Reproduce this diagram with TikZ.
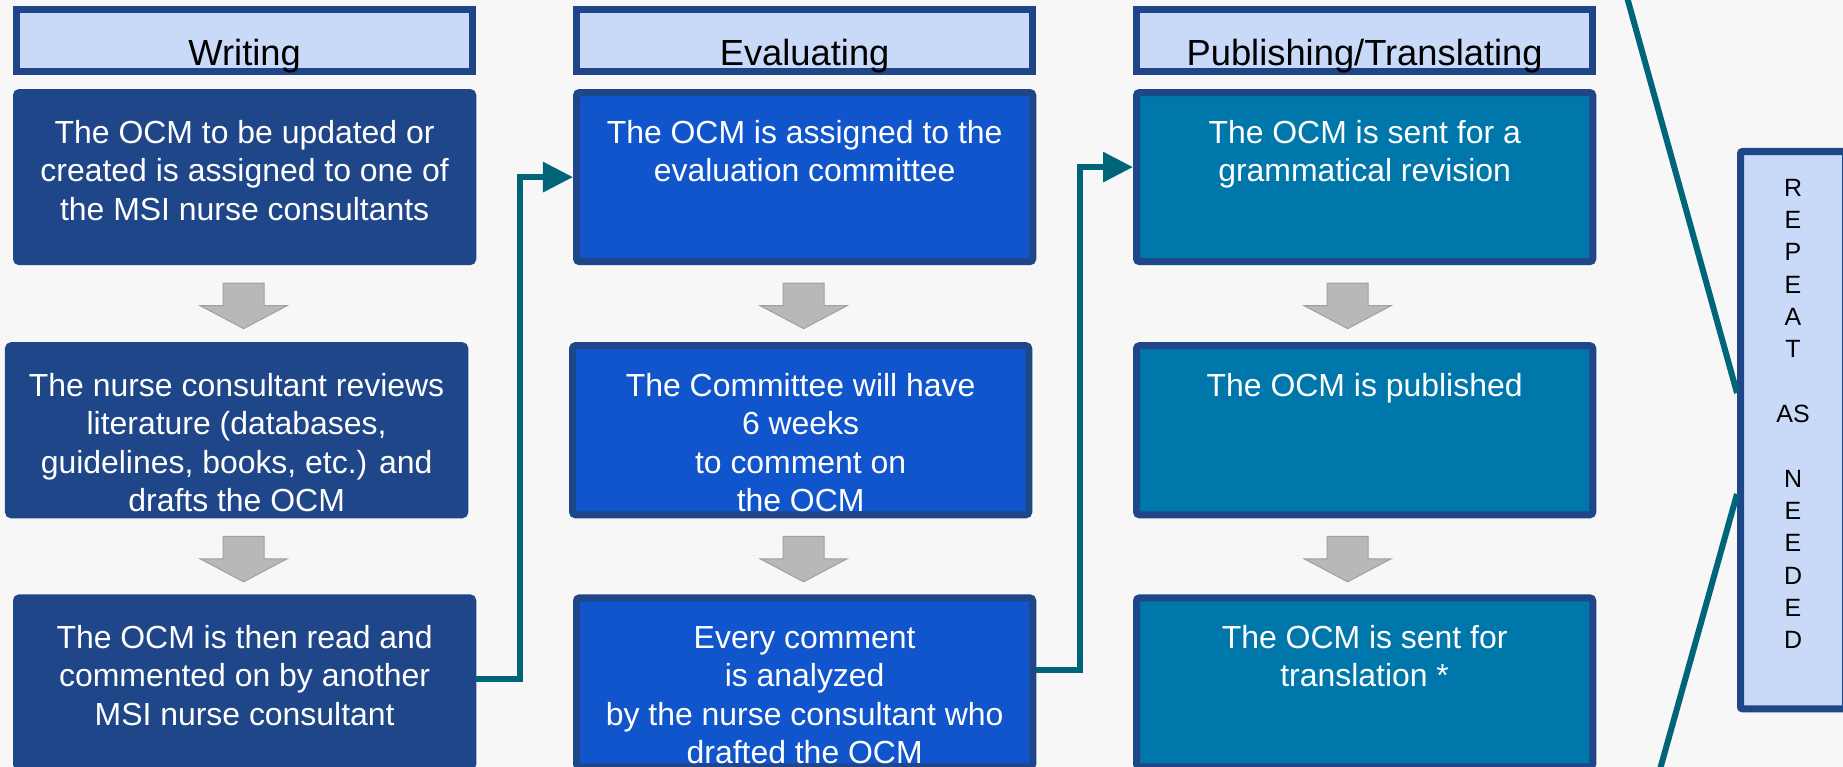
\documentclass[tikz,border=0pt]{standalone}
\usepackage{fontspec}
\setmainfont{Liberation Sans}
\usetikzlibrary{
  positioning,
  calc,
  arrows.meta
}
\definecolor{navy}{RGB}{31,70,136}
\definecolor{headbg}{RGB}{201,218,248}
\definecolor{writebg}{RGB}{31,70,136}
\definecolor{evalbg}{RGB}{17,85,204}
\definecolor{pubbg}{RGB}{0,119,170}
\definecolor{linkteal}{RGB}{0,101,120}
\definecolor{arrowfill}{RGB}{184,184,184}
\definecolor{arrowedge}{RGB}{160,160,160}
\definecolor{pagebg}{RGB}{247,247,247}

\newcommand{\stagetext}[1]{\parbox[c][1.69cm][t]{4.4cm}{\centering\rule{0pt}{0.505cm}#1}}
\newcommand{\repeattext}[1]{\parbox[c][5.57cm][t]{1cm}{\centering\rule{0pt}{0.445cm}#1}}

\begin{document}
\begin{tikzpicture}[
      x=0.01cm, y=-0.01cm,
      phasehead/.style={
        rectangle,
        draw=navy,
        fill=headbg,
        line width=0.07cm,
        minimum width=4.56cm,
        minimum height=0.62cm,
        inner sep=0pt,
        text height=0.49cm,
        text depth=0pt,
        font=\fontsize{10.33}{12}\selectfont
      },
      stagebox/.style={
        rectangle,
        rounded corners=0.03cm,
        draw=navy,
        line width=0.07cm,
        minimum width=4.56cm,
        minimum height=1.69cm,
        inner sep=0pt,
        text=white,
        font=\fontsize{9.08}{10.95}\selectfont
      },
      repeatbox/.style={
        rectangle,
        rounded corners=0.02cm,
        draw=navy,
        fill=headbg,
        line width=0.07cm,
        minimum width=1.05cm,
        minimum height=5.57cm,
        inner sep=0pt,
        font=\fontsize{7.1}{9.2}\selectfont
      },
      linkflow/.style={
        -{Triangle[length=0.3cm,width=0.29cm]},
        line width=0.06cm,
        linkteal
      },
      calloutline/.style={
        line width=0.06cm,
        linkteal
      },
      grayarrow/.pic={
        \filldraw[fill=arrowfill, draw=arrowedge, line width=0.01cm]
          (-20.5,-22.5) -- (20.5,-22.5) -- (20.5,0) -- (43.5,0)
          -- (0,23) -- (-43.5,0) -- (-20.5,0) -- cycle;
      }
    ]

    \useasboundingbox (0,0) rectangle (1843,767);
    \clip (0,0) rectangle (1843,767);
    \fill[pagebg] (0,0) rectangle (1843,767);

    % Coordinates
    \coordinate (col1) at (13,6);
    \coordinate (route12) at (520,0);
    \coordinate (col2) at (573,6);
    \coordinate (route23) at (1080,0);
    \coordinate (col3) at (1133,6);

    % Writing
    \node[phasehead, anchor=north west] (writing) at (col1) {Writing};
    \node[stagebox, fill=writebg, draw=writebg, below=0.14cm of writing] (w1)
      {\stagetext{The OCM to be updated or\\created is assigned to one of\\the MSI nurse consultants}};
    \node[stagebox, fill=writebg, draw=writebg, below=0.77cm of w1, xshift=-0.08cm] (w2)
      {\stagetext{The nurse consultant reviews\\literature (databases,\\guidelines, books, etc.) and\\drafts the OCM}};
    \node[stagebox, fill=writebg, draw=writebg, below=0.76cm of w2, xshift=0.08cm] (w3)
      {\stagetext{The OCM is then read and\\commented on by another\\MSI nurse consultant}};

    \pic at ($(w1.south)+(-1,40.5)$) {grayarrow};
    \pic at ($(w1.south |- w2.south)+(-1,40.5)$) {grayarrow};

    % Evaluating
    \node[phasehead, anchor=north west] (evaluating) at (col2) {Evaluating};
    \node[stagebox, fill=evalbg, below=0.14cm of evaluating] (e1)
      {\stagetext{The OCM is assigned to the\\evaluation committee}};
    \node[stagebox, fill=evalbg, below=0.77cm of e1, xshift=-0.04cm] (e2)
      {\stagetext{The Committee will have\\6 weeks\\to comment on\\the OCM}};
    \node[stagebox, fill=evalbg, below=0.76cm of e2, xshift=0.04cm] (e3)
      {\stagetext{Every comment\\is analyzed\\by the nurse consultant who\\drafted the OCM}};

    \pic at ($(e1.south)+(-1,40.5)$) {grayarrow};
    \pic at ($(e1.south |- e2.south)+(-1,40.5)$) {grayarrow};

    % Publishing/Translating
    \node[phasehead, anchor=north west] (publishing) at (col3) {Publishing/Translating};
    \node[stagebox, fill=pubbg, below=0.14cm of publishing] (p1)
      {\stagetext{The OCM is sent for a\\grammatical revision}};
    \node[stagebox, fill=pubbg, below=0.77cm of p1] (p2)
      {\stagetext{The OCM is published}};
    \node[stagebox, fill=pubbg, below=0.76cm of p2] (p3)
      {\stagetext{The OCM is sent for\\translation *}};

    \pic at ($(p1.south)+(-17,40.5)$) {grayarrow};
    \pic at ($(p2.south)+(-17,40.5)$) {grayarrow};

    % Routing
    \coordinate (port1) at ($(w3.east)+(0,-3)$);
    \coordinate (port2) at (e1.west);
    \draw[linkflow] (port1) -- (route12 |- port1) -- (route12 |- port2) -- (port2);

    \coordinate (port3) at ($(e3.east)+(0,-12)$);
    \coordinate (port4) at ($(p1.west)+(0,-10)$);
    \draw[linkflow] (port3) -- (route23 |- port3) -- (route23 |- port4) -- (port4);

    % Repeat
    \node[repeatbox, anchor=north west] (repeat) at (1737,148)
      {\repeattext{R\\E\\P\\E\\A\\T\\\mbox{}\\AS\\\mbox{}\\N\\E\\E\\D\\E\\D}};

    \coordinate (callup) at (1625,-10);
    \coordinate (calldown) at (1657,780);
    \draw[calloutline] (callup) -- ($(repeat.north west)+(0,245)$);
    \draw[calloutline] ($(repeat.north west)+(0,346)$) -- (calldown);

\end{tikzpicture}
\end{document}
